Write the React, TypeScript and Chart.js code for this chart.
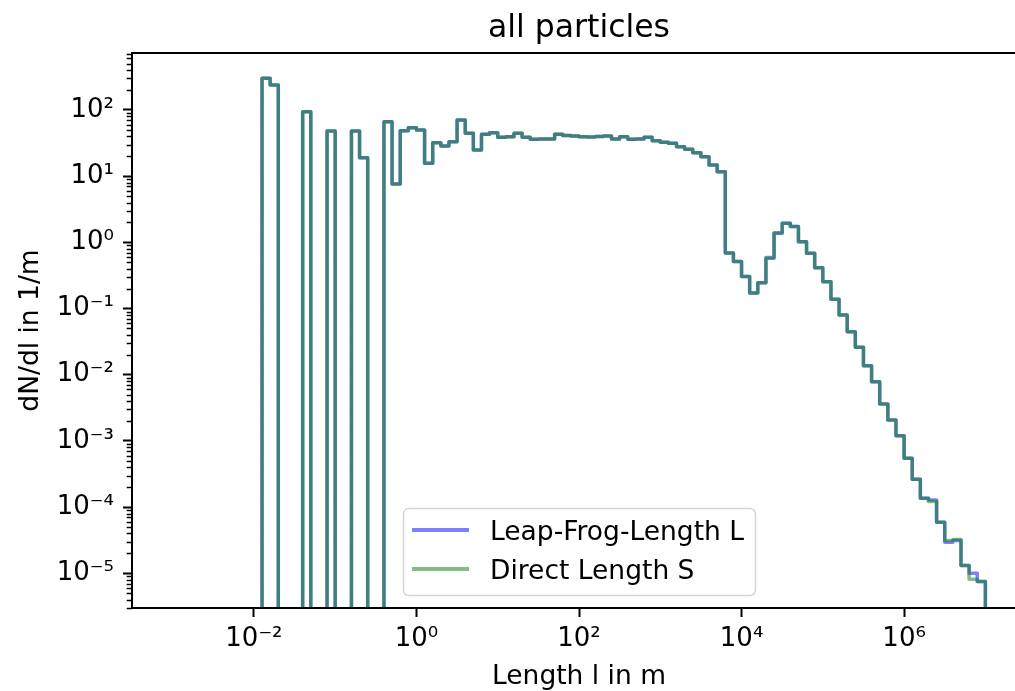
import React, { useEffect, useRef } from "react";
import { Chart, registerables } from "chart.js";

Chart.register(...registerables);

const TITLE = "all particles";
const X_LABEL = "Length l in m";
const Y_LABEL = "dN/dl in 1/m";
const SERIES_NAMES = ["Leap-Frog-Length L", "Direct Length S"];

// histogram bin edges, given as log10(length / m)
const binEdgesLog10 = [
  -1.9, -1.8, -1.7, -1.6, -1.5, -1.4, -1.3, -1.2, -1.1, -1.0,
  -0.9, -0.8, -0.7, -0.6, -0.5, -0.4, -0.3, -0.2, -0.1, 0.0,
  0.1, 0.2, 0.3, 0.4, 0.5, 0.6, 0.7, 0.8, 0.9, 1.0,
  1.1, 1.2, 1.3, 1.4, 1.5, 1.6, 1.7, 1.8, 1.9, 2.0,
  2.1, 2.2, 2.3, 2.4, 2.5, 2.6, 2.7, 2.8, 2.9, 3.0,
  3.1, 3.2, 3.3, 3.4, 3.5, 3.6, 3.7, 3.8, 3.9, 4.0,
  4.1, 4.2, 4.3, 4.4, 4.5, 4.6, 4.7, 4.8, 4.9, 5.0,
  5.1, 5.2, 5.3, 5.4, 5.5, 5.6, 5.7, 5.8, 5.9, 6.0,
  6.1, 6.2, 6.3, 6.4, 6.5, 6.6, 6.7, 6.8, 6.9, 7.0,
];

// dN/dl per bin (0 = empty bin)
const leapFrog = [
  301, 239, 0, 0, 0, 94, 0, 0, 48, 0,
  0, 48, 19, 0, 0, 66.6, 7.6, 48.6, 54, 50,
  15.7, 32.1, 28.6, 33.2, 70.7, 44.5, 24.9, 43, 45.4, 38.7,
  39.5, 44.5, 38.7, 36.1, 36.5, 36.5, 43, 41.2, 40.5, 39.5,
  39, 39.8, 40.5, 36.5, 39.5, 36.1, 36.5, 38.7, 34.3, 32.5,
  31.4, 27.9, 25.5, 22.6, 19.7, 14.8, 11.7, 0.69, 0.514, 0.305,
  0.172, 0.246, 0.575, 1.37, 1.94, 1.73, 1.02, 0.684, 0.415, 0.255,
  0.138, 0.08, 0.0448, 0.026, 0.0137, 0.00787, 0.00362, 0.00207, 0.0012, 5.48e-4,
  2.64e-4, 1.36e-4, 1.28e-4, 5.9e-5, 2.95e-5, 3.12e-5, 1.31e-5, 1.0e-5, 7.5e-6,
];

const direct = [
  301, 239, 0, 0, 0, 94, 0, 0, 48, 0,
  0, 48, 19, 0, 0, 66.6, 7.6, 48.6, 54, 50,
  15.7, 32.1, 28.6, 33.2, 70.7, 44.5, 24.9, 43, 45.4, 38.7,
  39.5, 44.5, 38.7, 36.1, 36.5, 36.5, 43, 41.2, 40.5, 39.5,
  39, 39.8, 40.5, 36.5, 39.5, 36.1, 36.5, 38.7, 34.3, 32.5,
  31.4, 27.9, 25.5, 22.6, 19.7, 14.8, 11.7, 0.69, 0.514, 0.305,
  0.172, 0.246, 0.59, 1.4, 1.94, 1.73, 1.02, 0.684, 0.415, 0.255,
  0.138, 0.08, 0.0448, 0.026, 0.0137, 0.00787, 0.00362, 0.00207, 0.0012, 5.48e-4,
  2.64e-4, 1.36e-4, 1.22e-4, 5.9e-5, 3.12e-5, 3.25e-5, 1.31e-5, 8.1e-6, 7.5e-6,
];

const xTickValues = [1e-2, 1e0, 1e2, 1e4, 1e6];
const xTickLabels = ["10\u207B\u00B2", "10\u2070", "10\u00B2", "10\u2074", "10\u2076"];
const yTickValues = [1e-5, 1e-4, 1e-3, 1e-2, 1e-1, 1e0, 1e1, 1e2];
const yTickLabels = [
  "10\u207B\u2075", "10\u207B\u2074", "10\u207B\u00B3", "10\u207B\u00B2",
  "10\u207B\u00B9", "10\u2070", "10\u00B9", "10\u00B2",
];

const X_MIN = Math.pow(10, -3.5);
const X_MAX = Math.pow(10, 7.5);
const Y_MIN = Math.pow(10, -5.524);
const Y_MAX = Math.pow(10, 2.861);

const CANVAS_W = 1040;
const CANVAS_H = 691;
const AREA_LEFT = 132;
const AREA_TOP = 53;
const AREA_RIGHT = 1026;
const AREA_BOTTOM = 608;
const FONT = "'DejaVu Sans', 'Liberation Sans', sans-serif";
const FLOOR = 1e-9;

function stepPoints(values: number[]) {
  const pts: { x: number; y: number }[] = [];
  pts.push({ x: Math.pow(10, binEdgesLog10[0]), y: FLOOR });
  for (let i = 0; i < values.length; i++) {
    pts.push({ x: Math.pow(10, binEdgesLog10[i]), y: values[i] > 0 ? values[i] : FLOOR });
  }
  pts.push({ x: Math.pow(10, binEdgesLog10[values.length]), y: FLOOR });
  return pts;
}

const decorPlugin = {
  id: "decor",
  afterDraw(chart: any) {
    const ctx: CanvasRenderingContext2D = chart.ctx;
    const a = chart.chartArea;
    const ys = chart.scales.y;
    ctx.save();
    // minor ticks on y
    ctx.strokeStyle = "#000";
    ctx.lineWidth = 1.5;
    for (let d = -6; d <= 2; d++) {
      for (let k = 2; k <= 9; k++) {
        const v = k * Math.pow(10, d);
        if (v < Y_MIN || v > Y_MAX) continue;
        const py = Math.round(ys.getPixelForValue(v)) + 0.5;
        ctx.beginPath();
        ctx.moveTo(a.left - 5.3, py);
        ctx.lineTo(a.left, py);
        ctx.stroke();
      }
    }
    // spines
    ctx.lineWidth = 2;
    ctx.strokeRect(a.left, a.top, a.right - a.left, a.bottom - a.top);

    // title
    ctx.fillStyle = "#000";
    ctx.textAlign = "center";
    ctx.textBaseline = "alphabetic";
    ctx.font = `31.5px ${FONT}`;
    const cx = (a.left + a.right) / 2;
    ctx.fillText(TITLE, cx, 37);
    // x label
    ctx.font = `26.5px ${FONT}`;
    ctx.fillText(X_LABEL, cx, 684);
    // y label
    ctx.save();
    ctx.translate(38, (a.top + a.bottom) / 2);
    ctx.rotate(-Math.PI / 2);
    ctx.fillText(Y_LABEL, 0, 0);
    ctx.restore();

    // legend
    const bx = 403.5, by = 508.5, bw = 352, bh = 87, r = 6;
    ctx.beginPath();
    ctx.moveTo(bx + r, by);
    ctx.lineTo(bx + bw - r, by);
    ctx.quadraticCurveTo(bx + bw, by, bx + bw, by + r);
    ctx.lineTo(bx + bw, by + bh - r);
    ctx.quadraticCurveTo(bx + bw, by + bh, bx + bw - r, by + bh);
    ctx.lineTo(bx + r, by + bh);
    ctx.quadraticCurveTo(bx, by + bh, bx, by + bh - r);
    ctx.lineTo(bx, by + r);
    ctx.quadraticCurveTo(bx, by, bx + r, by);
    ctx.closePath();
    ctx.fillStyle = "rgba(255,255,255,0.8)";
    ctx.fill();
    ctx.strokeStyle = "rgba(204,204,204,0.8)";
    ctx.lineWidth = 1.5;
    ctx.stroke();

    const rows = [530, 569];
    chart.data.datasets.forEach((ds: any, i: number) => {
      ctx.strokeStyle = ds.borderColor;
      ctx.lineWidth = 4;
      ctx.lineCap = "butt";
      ctx.beginPath();
      ctx.moveTo(412, rows[i]);
      ctx.lineTo(469, rows[i]);
      ctx.stroke();
      ctx.fillStyle = "#000";
      ctx.textAlign = "left";
      ctx.textBaseline = "alphabetic";
      ctx.font = `26.5px ${FONT}`;
      ctx.fillText(ds.label, 490, rows[i] + 9.5);
    });
    ctx.restore();
  },
};

export default function App() {
  const ref = useRef<HTMLCanvasElement>(null);
  useEffect(() => {
    const canvas = ref.current!;
    const common = {
      pointRadius: 0,
      stepped: "before",
      fill: false,
      tension: 0,
      borderWidth: 3.5,
      borderJoinStyle: "round",
      borderCapStyle: "butt",
      clip: 0,
    };
    const chart = new Chart(canvas, {
      type: "line",
      data: {
        datasets: [
          { ...common, label: SERIES_NAMES[0], data: stepPoints(leapFrog), borderColor: "rgba(0,0,255,0.5)", order: 1 },
          { ...common, label: SERIES_NAMES[1], data: stepPoints(direct), borderColor: "rgba(0,128,0,0.5)", order: 0 },
        ] as any,
      },
      options: {
        responsive: false,
        animation: false,
        devicePixelRatio: 1,
        events: [],
        layout: { padding: { left: 0, top: AREA_TOP, right: CANVAS_W - AREA_RIGHT, bottom: 0 } },
        plugins: { legend: { display: false }, title: { display: false }, tooltip: { enabled: false } },
        scales: {
          x: {
            type: "logarithmic",
            position: "bottom",
            min: X_MIN,
            max: X_MAX,
            bounds: "data",
            afterBuildTicks: (s: any) => {
              s.ticks = xTickValues.map((v) => ({ value: v }));
            },
            afterFit: (s: any) => {
              s.height = CANVAS_H - AREA_BOTTOM;
            },
            ticks: {
              autoSkip: false,
              maxRotation: 0,
              minRotation: 0,
              padding: 7,
              color: "#000",
              font: { family: FONT, size: 26 },
              callback: (_v: any, i: number) => xTickLabels[i],
            },
            grid: { display: true, drawOnChartArea: false, drawTicks: true, tickLength: 9, tickWidth: 2, tickColor: "#000" },
            border: { display: false },
          },
          y: {
            type: "logarithmic",
            position: "left",
            min: Y_MIN,
            max: Y_MAX,
            bounds: "data",
            afterBuildTicks: (s: any) => {
              s.ticks = yTickValues.map((v) => ({ value: v }));
            },
            afterFit: (s: any) => {
              s.width = AREA_LEFT;
            },
            ticks: {
              autoSkip: false,
              padding: 9,
              color: "#000",
              font: { family: FONT, size: 26 },
              callback: (_v: any, i: number) => yTickLabels[i],
            },
            grid: { display: true, drawOnChartArea: false, drawTicks: true, tickLength: 9, tickWidth: 2, tickColor: "#000" },
            border: { display: false },
          },
        },
      } as any,
      plugins: [decorPlugin],
    });
    return () => chart.destroy();
  }, []);
  return (
    <div style={{ position: "fixed", left: 0, top: 0, width: "100vw", height: "100vh", overflow: "hidden", background: "#fff" }}>
      <canvas ref={ref} width={CANVAS_W} height={CANVAS_H} style={{ display: "block" }} />
    </div>
  );
}
